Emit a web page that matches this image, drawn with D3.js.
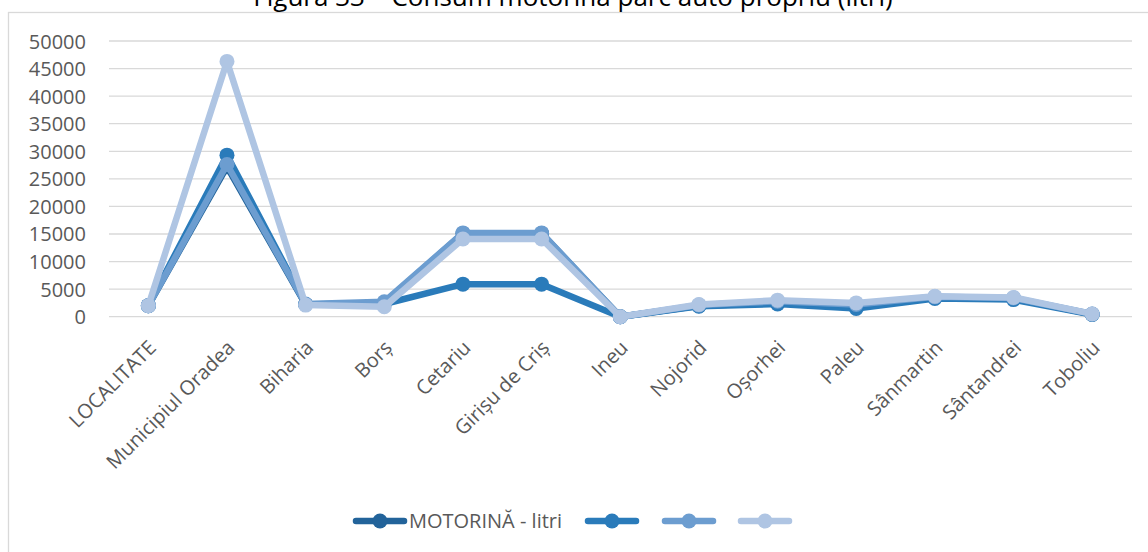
<!DOCTYPE html>
<html><head><meta charset="utf-8">
<script src="https://cdn.jsdelivr.net/npm/d3@7"></script>
<style>body{margin:0;background:#fff;} svg{display:block;font-family:"Open Sans",sans-serif;}</style>
</head><body>
<svg id="c" width="1148" height="552"></svg>
<script>
const categories = ["LOCALITATE","Municipiul Oradea","Biharia","Borș","Cetariu","Girișu de Criș","Ineu","Nojorid","Oșorhei","Paleu","Sânmartin","Sântandrei","Toboliu"];
const series1 = [2000, 27200, 2200, 2500, 15100, 15100, 0, 2000, 2500, 1800, 3500, 3300, 450];
const series2 = [2000, 29300, 2200, 2300, 5900, 5900, 0, 1900, 2300, 1500, 3300, 3100, 400];
const series3 = [2000, 27600, 2300, 2700, 15200, 15200, 0, 2100, 2800, 2200, 3600, 3400, 500];
const series4 = [2000, 46300, 2100, 1800, 14100, 14100, 0, 2200, 3000, 2500, 3700, 3500, 500];
const seriesNames = ["MOTORINĂ - litri", "", "", ""];
const yTicks = [0,5000,10000,15000,20000,25000,30000,35000,40000,45000,50000];
const title = "Figura 33 – Consum motorină parc auto propriu (litri)";

const colors = ["#22639A", "#2A7BBA", "#6C9DD0", "#AFC5E3"];
const allSeries = [series1, series2, series3, series4];

const svg = d3.select("#c");
// chart border
svg.append("rect").attr("x",8.5).attr("y",12.5).attr("width",1145).attr("height",560)
  .attr("fill","none").attr("stroke","#d9d9d9").attr("stroke-width",1.3);
// title (cut at top as in reference)
svg.append("text").attr("x",573).attr("y",6).attr("text-anchor","middle")
  .attr("font-size",26).attr("fill","#000").text(title);

const x = d3.scaleBand().domain(categories).range([109, 1131.5]);
const y = d3.scaleLinear().domain([0, 50000]).range([316.7, 41]);

// gridlines
svg.append("g").selectAll("line").data(yTicks).join("line")
  .attr("x1",109).attr("x2",1132).attr("y1",d=>y(d)).attr("y2",d=>y(d))
  .attr("stroke","#d9d9d9").attr("stroke-width",1.3);

// y axis labels
const yAxis = d3.axisLeft(y).tickValues(yTicks).tickFormat(d=>d).tickSize(0).tickPadding(0);
const ga = svg.append("g").attr("transform","translate(86,0)").call(yAxis);
ga.select(".domain").remove();
ga.selectAll("text").attr("font-size",20).attr("fill","#595959").attr("font-family","Open Sans").attr("dy","0.35em");

// x axis labels
const xAxis = d3.axisBottom(x).tickSize(0).tickPadding(0);
const gx = svg.append("g").attr("transform","translate(0,317)").call(xAxis);
gx.select(".domain").remove();
gx.selectAll("text").attr("font-size",20).attr("fill","#595959").attr("font-family","Open Sans")
  .attr("text-anchor","end").attr("dy",0).attr("y",0)
  .attr("transform","translate(9,32) rotate(-45)");

// lines
const line = d3.line().x((d,i)=>x(categories[i])+x.bandwidth()/2).y(d=>y(d));
allSeries.forEach((s,k)=>{
  const g = svg.append("g");
  g.append("path").datum(s).attr("d",line).attr("fill","none")
    .attr("stroke",colors[k]).attr("stroke-width",6.5).attr("stroke-linejoin","round").attr("stroke-linecap","round");
  g.selectAll("circle").data(s).join("circle")
    .attr("cx",(d,i)=>x(categories[i])+x.bandwidth()/2).attr("cy",d=>y(d)).attr("r",7.5)
    .attr("fill",colors[k]);
});

// legend
const legX = [353, 585, 662, 738];
const legY = 521;
seriesNames.forEach((n,k)=>{
  const g = svg.append("g");
  g.append("line").attr("x1",legX[k]+3).attr("x2",legX[k]+51).attr("y1",legY).attr("y2",legY)
    .attr("stroke",colors[k]).attr("stroke-width",6.5).attr("stroke-linecap","round");
  g.append("circle").attr("cx",legX[k]+27).attr("cy",legY).attr("r",7.5).attr("fill",colors[k]);
  if(n) g.append("text").attr("x",legX[k]+56).attr("y",legY).attr("dy","0.35em")
    .attr("font-size",20).attr("fill","#595959").text(n);
});
</script>
</body></html>
